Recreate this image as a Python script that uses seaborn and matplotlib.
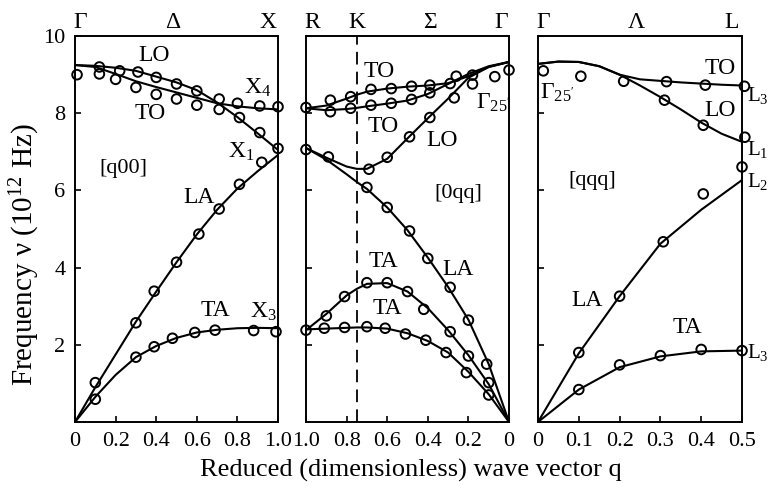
import pandas as pd
import matplotlib
matplotlib.use("Agg")
import matplotlib.pyplot as plt
import seaborn as sns

sns.set_style("ticks")
plt.rcParams["font.family"] = ["Liberation Serif", "DejaVu Serif"]
plt.rcParams["mathtext.fontset"] = "custom"
plt.rcParams["mathtext.rm"] = "Liberation Serif"
plt.rcParams["mathtext.it"] = "Liberation Serif:italic"
plt.rcParams["mathtext.default"] = "rm"
plt.rcParams["text.color"] = "black"
plt.rcParams["axes.labelcolor"] = "black"

# ---- [q00] : Gamma -> X ----
d_q = [0, 0.1, 0.2, 0.3, 0.4, 0.5, 0.6, 0.7, 0.8, 0.9, 1.0]
d_LO = [9.25, 9.23, 9.18, 9.1, 8.95, 8.8, 8.6, 8.28, 7.9, 7.48, 7.05]
d_TO = [9.25, 9.2, 9.02, 8.83, 8.68, 8.54, 8.4, 8.26, 8.18, 8.13, 8.1]
d_LA = [0, 0.9, 1.75, 2.6, 3.38, 4.14, 4.86, 5.5, 6.05, 6.5, 6.92]
d_TA = [0, 0.65, 1.22, 1.68, 1.97, 2.18, 2.32, 2.39, 2.43, 2.44, 2.43]

p1_q = [0.01, 0.12, 0.12, 0.2, 0.22, 0.3, 0.31, 0.4, 0.4, 0.5, 0.5, 0.6, 0.6,
        0.71, 0.71, 0.8, 0.81, 0.91, 0.91, 1.0, 1.0,
        0.92, 0.81, 0.71, 0.61, 0.5, 0.39, 0.3, 0.1,
        0.1, 0.3, 0.39, 0.48, 0.59, 0.69, 0.88, 0.99]
p1_nu = [9.0, 9.2, 9.02, 8.88, 9.1, 8.67, 9.07, 8.49, 8.93, 8.37, 8.76, 8.21, 8.58,
         8.37, 8.1, 8.26, 7.89, 7.5, 8.19, 8.17, 7.09,
         6.73, 6.16, 5.52, 4.87, 4.14, 3.39, 2.57, 1.02,
         0.59, 1.68, 1.95, 2.17, 2.32, 2.38, 2.37, 2.34]

# ---- [0qq] : R -> K -> Gamma (axis runs 1.0 -> 0) ----
s_q = [1.0, 0.9, 0.8, 0.75, 0.7, 0.6, 0.5, 0.4, 0.3, 0.2, 0.1, 0.0]
s_TO1 = [8.13, 8.2, 8.38, 8.48, 8.56, 8.64, 8.69, 8.72, 8.78, 8.96, 9.2, 9.33]
s_TO2 = [8.13, 8.08, 8.11, 8.14, 8.18, 8.25, 8.33, 8.5, 8.76, 9.02, 9.22, 9.33]
s_LO = [7.1, 6.85, 6.62, 6.56, 6.56, 6.82, 7.35, 7.87, 8.38, 8.92, 9.2, 9.33]
s_LA = [7.1, 6.8, 6.42, 6.22, 6.04, 5.56, 4.97, 4.26, 3.5, 2.65, 1.5, 0.0]
s_TA1 = [2.38, 2.8, 3.28, 3.45, 3.58, 3.6, 3.38, 2.95, 2.38, 1.73, 0.98, 0.0]
s_TA2 = [2.4, 2.42, 2.44, 2.45, 2.45, 2.42, 2.3, 2.1, 1.8, 1.3, 0.72, 0.0]

p2_q = [1.0, 0.88, 0.88, 0.78, 0.78, 0.68, 0.68, 0.58, 0.58, 0.48, 0.48, 0.39, 0.39,
        0.29, 0.26, 0.18, 0.18, 0.07, 0.0,
        1.0, 0.89, 0.69, 0.6, 0.49, 0.39, 0.27,
        0.7, 0.6, 0.49, 0.4, 0.29, 0.2, 0.11,
        0.9, 0.81, 0.7, 0.6, 0.5, 0.42, 0.29, 0.2, 0.1,
        1.0, 0.91, 0.81, 0.7, 0.61, 0.51, 0.41, 0.31, 0.21, 0.1]
p2_nu = [8.15, 8.34, 8.04, 8.43, 8.13, 8.62, 8.21, 8.64, 8.26, 8.7, 8.36, 8.73, 8.53,
         8.77, 8.96, 8.99, 8.76, 8.95, 9.12,
         7.06, 6.87, 6.55, 6.86, 7.39, 7.89, 8.4,
         6.08, 5.56, 4.95, 4.24, 3.49, 2.64, 1.5,
         2.75, 3.25, 3.61, 3.61, 3.38, 2.92, 2.34, 1.71, 1.02,
         2.38, 2.43, 2.45, 2.47, 2.43, 2.28, 2.12, 1.8, 1.28, 0.7]

# ---- [qqq] : Gamma -> L ----
l_q = [0, 0.05, 0.1, 0.15, 0.2, 0.25, 0.3, 0.35, 0.4, 0.45, 0.5]
l_TO = [9.28, 9.34, 9.33, 9.22, 9.0, 8.88, 8.84, 8.8, 8.77, 8.74, 8.72]
l_LO = [9.28, 9.34, 9.33, 9.22, 9.0, 8.72, 8.42, 8.1, 7.76, 7.47, 7.26]
a_q = [0, 0.1, 0.2, 0.3, 0.4, 0.5]
l_LA = [0, 1.78, 3.26, 4.62, 5.5, 6.27]
l_TA = [0, 0.84, 1.42, 1.7, 1.83, 1.85]

p3_q = [0.013, 0.105, 0.21, 0.315, 0.41, 0.506, 0.31, 0.405, 0.507,
        0.5, 0.405, 0.307, 0.2, 0.1, 0.1, 0.2, 0.3, 0.4, 0.5]
p3_nu = [9.1, 8.96, 8.83, 8.82, 8.73, 8.7, 8.34, 7.69, 7.38,
         6.61, 5.91, 4.67, 3.26, 1.8, 0.84, 1.48, 1.72, 1.88, 1.85]


def branches(parts):
    rows = []
    for name, qs, vals in parts:
        for q, v in zip(qs, vals):
            rows.append({"q": q, "nu": v, "branch": name})
    return pd.DataFrame(rows)


df1 = branches([("LO", d_q, d_LO), ("TO", d_q, d_TO), ("LA", d_q, d_LA), ("TA", d_q, d_TA)])
df2 = branches([("TO1", s_q, s_TO1), ("TO2", s_q, s_TO2), ("LO", s_q, s_LO),
                ("LA", s_q, s_LA), ("TA1", s_q, s_TA1), ("TA2", s_q, s_TA2)])
df3 = branches([("TO", l_q, l_TO), ("LO", l_q, l_LO), ("LA", a_q, l_LA), ("TA", a_q, l_TA)])

fig = plt.figure(figsize=(7.71, 4.86), dpi=100)
ax1 = fig.add_axes([0.0973, 0.1317, 0.2633, 0.794])
ax2 = fig.add_axes([0.3969, 0.1317, 0.2633, 0.794])
ax3 = fig.add_axes([0.6978, 0.1317, 0.2646, 0.794])

for ax, df, pq, pn in [(ax1, df1, p1_q, p1_nu), (ax2, df2, p2_q, p2_nu), (ax3, df3, p3_q, p3_nu)]:
    sns.lineplot(data=df, x="q", y="nu", units="branch", estimator=None, sort=False,
                 color="black", linewidth=1.5, ax=ax, legend=False)
    sns.scatterplot(x=pq, y=pn, ax=ax, marker="o", s=48, facecolor="none",
                    edgecolor="black", linewidth=1.4, clip_on=False, zorder=3)
    ax.set_ylim(0, 10)
    ax.set_yticks([2, 4, 6, 8, 10])
    ax.set_xlabel("")
    ax.set_ylabel("")
    ax.tick_params(direction="in", length=4, width=1.2, labelsize=16, pad=7, colors="black")
    for sp in ax.spines.values():
        sp.set_linewidth(1.4)
        sp.set_color("black")

ax1.set_xlim(0, 1)
ax1.set_xticks([0, 0.2, 0.4, 0.6, 0.8, 1.0])
ax1.set_xticklabels(["0", "0.2", "0.4", "0.6", "0.8", "1.0"])
ax1.set_yticklabels(["2", "4", "6", "8", "10"])
ax1.set_ylabel("Frequency \u03bd (10$^{12}$ Hz)", fontsize=21)
ax1.yaxis.set_label_coords(-0.165, 0.433)

ax2.set_xlim(1, 0)
ax2.set_xticks([1.0, 0.8, 0.6, 0.4, 0.2, 0])
ax2.set_xticklabels(["1.0", "0.8", "0.6", "0.4", "0.2", "0"])
ax2.set_yticklabels([])
ax2.axvline(0.75, color="black", linewidth=1.3, dashes=(7, 4))

ax3.set_xlim(0, 0.5)
ax3.set_xticks([0, 0.1, 0.2, 0.3, 0.4, 0.5])
ax3.set_xticklabels(["0", "0.1", "0.2", "0.3", "0.4", "0.5"])
ax3.set_yticklabels([])

fig.text(0.533, 0.032, "Reduced (dimensionless) wave vector q", ha="center", va="center", fontsize=19)

# symmetry points above panels
tops = [(ax1, [(0.025, "\u0393"), (0.48, "\u0394"), (0.95, "X")]),
        (ax2, [(0.97, "R"), (0.75, "K"), (0.39, "\u03a3"), (0.04, "\u0393")]),
        (ax3, [(0.013, "\u0393"), (0.24, "\u039b"), (0.475, "L")])]
for ax, labs in tops:
    for x, t in labs:
        ax.text(x, 1.034, t, transform=ax.get_xaxis_transform(), ha="center", va="center", fontsize=17)

lab = dict(fontsize=17, ha="center", va="center")
box = dict(fontsize=16, ha="center", va="center")
ax1.text(0.39, 9.5, "LO", **lab)
ax1.text(0.37, 8.0, "TO", **lab)
ax1.text(0.9, 8.65, "X$_4$", **lab)
ax1.text(0.82, 7.0, "X$_1$", **lab)
ax1.text(0.24, 6.58, "[q00]", **box)
ax1.text(0.61, 5.83, "LA", **lab)
ax1.text(0.69, 2.9, "TA", **lab)
ax1.text(0.93, 2.85, "X$_3$", **lab)

ax2.text(0.64, 9.07, "TO", **lab)
ax2.text(0.62, 7.67, "TO", **lab)
ax2.text(0.08, 8.26, "\u0393$_{25'}$", **lab)
ax2.text(0.33, 7.3, "LO", **lab)
ax2.text(0.25, 5.93, "[0qq]", **box)
ax2.text(0.62, 4.15, "TA", **lab)
ax2.text(0.6, 2.95, "TA", **lab)
ax2.text(0.25, 3.94, "LA", **lab)

ax3.text(0.446, 9.17, "TO", **lab)
ax3.text(0.005, 8.52, "\u0393$_{25'}$", fontsize=17, ha="left", va="center")
ax3.text(0.446, 8.08, "LO", **lab)
ax3.text(0.132, 6.27, "[qqq]", **box)
ax3.text(0.12, 3.16, "LA", **lab)
ax3.text(0.365, 2.44, "TA", **lab)
for y, t in [(8.47, "L$_3$"), (7.05, "L$_1$"), (6.23, "L$_2$"), (1.81, "L$_3$")]:
    ax3.text(0.512, y, t, fontsize=15, ha="left", va="center", clip_on=False)

fig.savefig("out.png", dpi=100)
